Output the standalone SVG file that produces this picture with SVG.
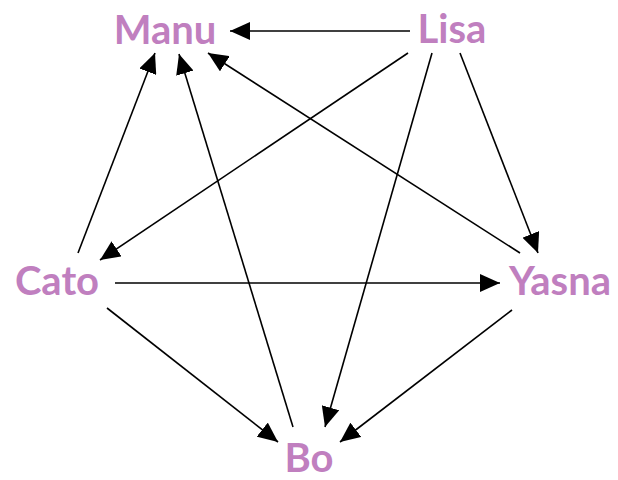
<svg xmlns="http://www.w3.org/2000/svg" width="618" height="480" viewBox="0 0 618 480">
<style>
.lbl{font-family:Lato,"Open Sans","DejaVu Sans",sans-serif;font-weight:bold;font-size:40px;fill:#c07fbf;text-anchor:middle}
.e{stroke:#000;stroke-width:1.6;fill:none;marker-end:url(#ah)}
</style>
<defs>
<marker id="ah" viewBox="0 0 20 18" refX="20" refY="9" markerWidth="20" markerHeight="18" markerUnits="userSpaceOnUse" orient="auto">
<path d="M0,0 L20,9 L0,18 Z" fill="#000"/>
</marker>
</defs>
<rect width="618" height="480" fill="#fff"/>
<g id="edges">
<line class="e" x1="410" y1="31" x2="230" y2="31"/>
<line class="e" x1="408" y1="53" x2="100" y2="260"/>
<line class="e" x1="460" y1="53" x2="538" y2="253"/>
<line class="e" x1="432" y1="53" x2="325" y2="427"/>
<line class="e" x1="78" y1="253" x2="155" y2="53"/>
<line class="e" x1="293" y1="427" x2="179" y2="54"/>
<line class="e" x1="520" y1="253" x2="208" y2="53"/>
<line class="e" x1="115" y1="283" x2="500" y2="283"/>
<line class="e" x1="107" y1="308" x2="278" y2="442"/>
<line class="e" x1="512" y1="310" x2="340" y2="442"/>
</g>
<g id="Manu"><text class="lbl" x="165" y="44">Manu</text></g>
<g id="Lisa"><text class="lbl" x="452" y="43">Lisa</text></g>
<g id="Cato"><text class="lbl" x="57" y="295">Cato</text></g>
<g id="Yasna"><text class="lbl" x="560" y="295">Yasna</text></g>
<g id="Bo"><text class="lbl" x="309" y="472">Bo</text></g>
</svg>
